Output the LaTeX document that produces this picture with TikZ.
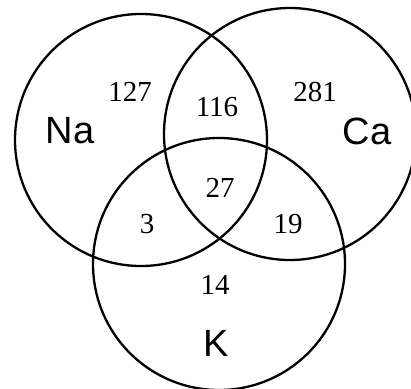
\documentclass[tikz,border=0pt]{standalone}
\usepackage{fontspec}
\setmainfont{Liberation Serif}
\setsansfont{Liberation Sans}
\usepackage{tikz}
\usetikzlibrary{positioning}

\begin{document}
\begin{tikzpicture}[
x=1pt, y=-1pt,
set/.style={draw, circle, line width=2.3pt, minimum size=252pt, inner sep=0pt},
setname/.style={font=\sffamily\fontsize{38}{38}\selectfont, inner sep=0pt},
count/.style={font=\fontsize{29}{29}\selectfont, inner sep=0pt}
]
\useasboundingbox (0,0) rectangle (411,388);
\node[set] (na) at (141,140) {};
\node[set] (ca) at (290,134) {};
\node[set] (k) at (219,264) {};

\node[setname] (naname) at (70,131) {Na};
\node[setname] (caname) at (367,131) {Ca};
\node[setname] (kname) at (216,343) {K};

\node[count] (onlyna) at (130,92) {127};
\node[count] (naca) at (217,107) {116};
\node[count] (onlyca) at (315,92) {281};
\node[count] (all) at (220,188) {27};
\node[count] (nak) at (147,224) {3};
\node[count] (cak) at (288,224) {19};
\node[count] (onlyk) at (215,285) {14};
\end{tikzpicture}
\end{document}
